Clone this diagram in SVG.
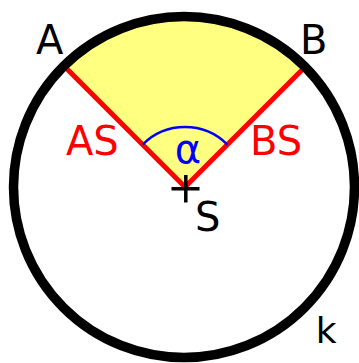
<svg xmlns="http://www.w3.org/2000/svg" width="359" height="363" viewBox="0 0 359 363">
<style>
text{font-family:"DejaVu Sans",sans-serif;font-size:40px}
.blk{fill:#000}
.red{fill:#f00}
.blue{fill:#00f}
.ray{stroke:#f00;stroke-width:5;fill:none}
</style>
<rect width="359" height="363" fill="#fff"/>
<g id="sector">
<path d="M185,187 L64.8,66.8 A170,170 0 0 1 305.2,66.8 Z" fill="#ffff80"/>
</g>
<g id="connectors">
<line class="ray" x1="185" y1="187" x2="64.8" y2="66.8"/>
<line class="ray" x1="185" y1="187" x2="305.2" y2="66.8"/>
<path d="M142.6,144.6 A60,60 0 0 1 227.4,144.6" fill="none" stroke="#00f" stroke-width="2.5"/>
</g>
<g id="circle-k">
<circle cx="184" cy="187" r="170.5" fill="none" stroke="#000" stroke-width="9.5"/>
</g>
<g id="center-S">
<path d="M171.5,188.7 H199.5 M185.8,175 V202.5" stroke="#000" stroke-width="3.5" fill="none"/>
<text class="blk" x="195" y="231">S</text>
</g>
<g id="point-A"><text class="blk" x="36" y="54">A</text></g>
<g id="point-B"><text class="blk" x="300" y="54">B</text></g>
<g id="label-AS"><text class="red" x="66" y="155">AS</text></g>
<g id="label-BS"><text class="red" x="250" y="155">BS</text></g>
<g id="label-alpha"><text class="blue" x="188" y="163" text-anchor="middle">α</text></g>
<g id="label-k"><text class="blk" x="315.7" y="342.5" style="font-size:36px">k</text></g>
</svg>
